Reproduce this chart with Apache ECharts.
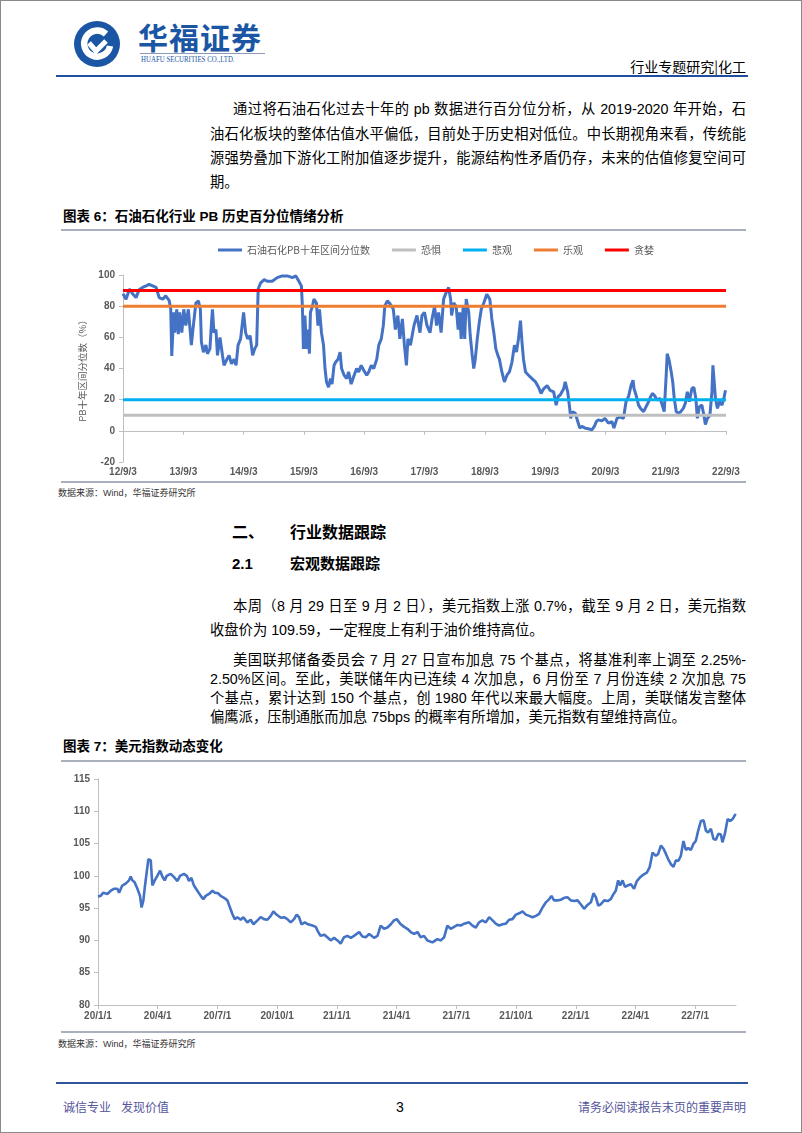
<!DOCTYPE html>
<html><head><meta charset="utf-8">
<script src="https://cdn.jsdelivr.net/npm/echarts@6/dist/echarts.min.js"></script>
<style>
html,body{margin:0;padding:0;background:#fff;}
#page{position:relative;width:802px;height:1133px;box-sizing:border-box;border:1px solid #8a8a8a;overflow:hidden;font-family:"Liberation Sans","Noto Sans CJK SC",sans-serif;color:#000;}
.t{position:absolute;white-space:nowrap;}
.j{position:absolute;white-space:nowrap;text-align:justify;text-align-last:justify;font-size:14.3px;line-height:18px;height:18px;}
.hl{position:absolute;height:2px;}
.b{font-weight:bold;}
</style></head><body>
<div id="page">
  <!-- header -->
  <svg style="position:absolute;left:72px;top:19px" width="48" height="48" viewBox="0 0 48 48">
    <circle cx="24" cy="24" r="23" fill="#1B56A5"/>
    <path d="M33 14 A13 13 0 1 0 37 26" fill="none" stroke="#fff" stroke-width="6.5"/>
    <path d="M16 23 L23 31 L33 21" fill="none" stroke="#fff" stroke-width="5"/>
  </svg>
  <div class="t b" style="left:137px;top:18px;font-size:30px;line-height:34px;color:#1B56A5;font-family:'Noto Sans CJK SC';letter-spacing:1px">华福证券</div>
  <div class="hl" style="left:139px;top:52px;width:125px;height:1px;background:#8a9ab8"></div>
  <div class="t" style="left:140px;top:54px;font-size:8px;line-height:9px;color:#1B56A5;font-family:'Liberation Serif';transform:scaleX(0.86);transform-origin:left">HUAFU SECURITIES CO.,LTD.</div>
  <div class="t" style="right:55px;top:56px;font-size:14px;line-height:18px;font-family:'Noto Sans CJK SC'">行业专题研究|化工</div>
  <div class="hl" style="left:55px;top:74px;width:692px;background:#1F4E9E"></div>

  <!-- paragraph 1 -->
  <div class="j" style="left:232px;top:99px;width:513px">通过将石油石化过去十年的 pb 数据进行百分位分析，从 2019-2020 年开始，石</div>
  <div class="j" style="left:209px;top:124px;width:536px">油石化板块的整体估值水平偏低，目前处于历史相对低位。中长期视角来看，传统能</div>
  <div class="j" style="left:209px;top:148px;width:536px">源强势叠加下游化工附加值逐步提升，能源结构性矛盾仍存，未来的估值修复空间可</div>
  <div class="t" style="left:209px;top:172px;font-size:14.3px;line-height:18px">期。</div>

  <!-- chart 6 -->
  <div class="t b" style="left:62px;top:207px;font-size:13.5px;line-height:18px">图表 6：石油石化行业 PB 历史百分位情绪分析</div>
  <div class="hl" style="left:60px;top:228px;width:685px;background:#A9AFBD"></div>
  <div id="c1" style="position:absolute;left:40px;top:236px;width:720px;height:240px"></div>
  <div class="hl" style="left:60px;top:480px;width:685px;background:#A9AFBD"></div>
  <div class="t" style="left:57px;top:486px;font-size:9px;line-height:12px;color:#333">数据来源：Wind，华福证券研究所</div>

  <!-- section -->
  <div class="t b" style="left:231px;top:522px;font-size:16px;line-height:20px">二、</div>
  <div class="t b" style="left:289px;top:522px;font-size:16px;line-height:20px">行业数据跟踪</div>
  <div class="t b" style="left:231px;top:553px;font-size:15px;line-height:19px">2.1</div>
  <div class="t b" style="left:289px;top:553px;font-size:15px;line-height:19px">宏观数据跟踪</div>

  <div class="j" style="left:232px;top:596px;width:513px">本周（8 月 29 日至 9 月 2 日），美元指数上涨 0.7%，截至 9 月 2 日，美元指数</div>
  <div class="t" style="left:209px;top:620px;font-size:14.3px;line-height:18px">收盘价为 109.59，一定程度上有利于油价维持高位。</div>

  <div class="j" style="left:232px;top:650px;width:513px">美国联邦储备委员会 7 月 27 日宣布加息 75 个基点，将基准利率上调至 2.25%-</div>
  <div class="j" style="left:209px;top:669px;width:536px">2.50%区间。至此，美联储年内已连续 4 次加息，6 月份至 7 月份连续 2 次加息 75</div>
  <div class="j" style="left:209px;top:688px;width:536px">个基点，累计达到 150 个基点，创 1980 年代以来最大幅度。上周，美联储发言整体</div>
  <div class="t" style="left:209px;top:707px;font-size:14.3px;line-height:18px">偏鹰派，压制通胀而加息 75bps 的概率有所增加，美元指数有望维持高位。</div>

  <!-- chart 7 -->
  <div class="t b" style="left:62px;top:737px;font-size:13.5px;line-height:18px">图表 7：美元指数动态变化</div>
  <div class="hl" style="left:60px;top:759px;width:685px;background:#A9AFBD"></div>
  <div id="c2" style="position:absolute;left:40px;top:765px;width:720px;height:262px"></div>
  <div class="hl" style="left:60px;top:1030px;width:685px;background:#A9AFBD"></div>
  <div class="t" style="left:57px;top:1037px;font-size:9px;line-height:12px;color:#333">数据来源：Wind，华福证券研究所</div>

  <!-- footer -->
  <div class="hl" style="left:55px;top:1081px;width:692px;background:#2F5597"></div>
  <div class="t" style="left:62px;top:1099px;font-size:12px;line-height:16px;color:#55559a">诚信专业&nbsp;&nbsp;&nbsp;发现价值</div>
  <div class="t" style="left:395px;top:1098px;font-size:14px;line-height:17px">3</div>
  <div class="t" style="right:55px;top:1099px;font-size:12px;line-height:16px;color:#55559a">请务必阅读报告末页的重要声明</div>
</div>
<script>
// ---------- Chart 6 data: months since 2012/9/3, PB ten-year percentile ----------
const pbMonths = [0,0.6,1.3,1.9,2.6,3.2,3.9,4.6,5.2,5.9,6.6,7.2,7.9,8.5,9.2,9.5,9.7,10.1,10.3,10.7,11.0,11.3,11.7,12.1,12.5,13.0,13.4,13.6,14.0,14.5,15.0,15.4,15.6,16.0,16.5,16.8,17.3,17.6,17.8,18.1,18.5,18.8,19.3,19.8,20.1,20.7,21.1,21.6,22.1,22.5,22.9,23.4,24.0,24.4,24.8,25.3,25.8,26.2,26.6,26.9,
27.4,28.1,28.7,29.7,30.7,31.7,32.7,33.7,34.4,35.0,35.5,35.7,35.9,36.2,36.5,36.8,37.1,37.3,37.7,38.0,38.5,38.8,39.1,39.5,39.9,40.2,40.5,40.9,41.3,41.6,42.0,42.3,42.8,43.2,43.5,44.0,44.5,44.9,45.4,46.0,46.5,46.9,47.4,47.9,48.5,48.9,49.4,49.9,50.5,50.9,51.4,51.8,52.1,52.6,53.2,53.8,54.2,54.7,55.1,55.6,56.0,56.4,56.7,
57.2,57.9,58.5,59.1,59.5,60.0,60.5,61.1,61.5,62.0,62.4,62.8,63.3,63.8,64.3,64.8,65.2,65.4,65.8,66.3,66.7,67.0,67.3,67.7,68.0,68.3,68.8,69.1,69.5,69.8,70.1,70.5,70.9,71.3,71.8,72.4,73.0,73.4,73.8,74.2,74.6,74.9,75.4,75.9,76.4,76.9,77.4,77.9,78.3,78.7,79.1,79.4,79.7,80.1,80.7,81.4,82.1,82.7,83.2,83.7,84.4,85.0,85.7,86.2,86.6,
87.0,87.7,88.0,88.5,88.9,89.1,89.5,90.0,90.5,90.9,91.3,92.0,92.6,93.3,93.8,94.2,94.6,95.3,95.9,96.6,97.3,97.7,98.3,98.9,99.6,100.1,100.6,101.1,101.5,101.7,102.1,102.6,103.0,103.6,104.1,104.6,105.0,105.4,105.9,106.3,106.9,107.4,107.7,108.1,108.3,108.7,109.1,109.4,109.7,110.1,110.5,111.0,111.5,111.9,112.3,112.7,113.2,113.6,114.0,114.3,114.7,115.2,115.6,115.9,116.3,116.8,117.2,117.4,117.6,117.9,118.3,118.7,119.2,119.5,119.9];
const pbValues = [88,84.5,91,88,85.5,90.5,92,93,94,93,92,85.5,84.5,86.6,83.5,78,48,76,63,78,62,76,63,78,67.5,78,63,55,67.5,82,83.4,78,57,50.5,55,49.5,52.6,68.6,78,63,65,48.4,60,48.4,42,46,48.4,43,46,42,55,59,76,63,59,61,48.4,52.6,55,91,
95,97,96,96,98.3,99.4,99.4,98.3,99.4,96,93,80,52.6,74,52.6,65,49.5,76,80,84.5,82,67.5,78,63,55,40,31.4,28,33.5,30,42,44,46,50.5,40,35.7,33.5,37.8,30,35.7,40,37.8,42,38.9,35.7,37.8,42,40,46,55,59,67.5,80,83.4,81.3,78,65,74,59,71.8,55,42,59,
55,67.5,74,63,74,76,67.5,63,71.8,80,67.5,76,63,84.5,88.7,92,84.5,74,82,80,65,76,59,80,59,84.5,76,61,48.4,40,46,59,69.6,78,82,87.7,84.5,71.8,63,52.6,48.4,46,37.8,31.4,35.7,37.8,44,55,50.5,59,70.7,57,46,37.8,35.7,33.5,31.4,28,24,27,29,26,25,16.5,22,
23,27,31.4,25,14.4,8,12.3,11.3,6,1.7,2.8,1.7,1.3,0.6,2.8,6,7,6.4,8,4.9,6,1.7,8,9,8,18.7,22,29,32.5,27,23,16.5,14.4,12.3,15.5,18.7,22,24,22,19.7,20.8,15.5,12.3,35.7,49.5,45,37.8,31.4,20.8,12.3,11.3,12.3,14.4,17.6,25,18.7,27,28,20.8,8,15.5,16.5,10,4,8,10,25,42,33.5,20.8,14.4,18.7,16.5,19.7,26];
const pbXLabels = ['12/9/3','13/9/3','14/9/3','15/9/3','16/9/3','17/9/3','18/9/3','19/9/3','20/9/3','21/9/3','22/9/3'];
const pbSeriesName = '石油石化PB十年区间分位数';
const levelNames = ['恐惧','悲观','乐观','贪婪'];
const levelValues = [10,20,80,90];
const levelColors = ['#BFBFBF','#00B0F0','#ED7D31','#FF0000'];

// ---------- Chart 7 data: months since 2020/1/1, US dollar index ----------
const usdMonths = [0,0.13,0.27,0.47,0.64,0.80,0.97,1.06,1.22,1.39,1.56,1.64,1.73,1.84,1.98,2.11,2.19,2.28,2.35,2.45,2.53,2.65,2.73,2.85,2.98,3.12,3.23,3.35,3.45,3.65,3.82,3.99,4.12,4.32,4.46,4.57,4.69,4.82,4.99,5.16,5.29,5.41,5.58,5.75,5.86,6.03,6.16,6.33,6.50,6.63,6.75,6.87,7.00,7.17,7.30,7.50,7.67,7.81,8.01,8.17,8.34,8.51,8.68,8.81,8.93,9.10,9.21,9.35,9.51,9.68,9.85,9.98,10.10,10.22,10.39,10.55,10.77,10.94,11.06,11.19,11.36,11.52,11.69,11.86,12.03,12.19,12.36,12.53,12.70,12.86,13.12,13.28,13.45,13.62,13.87,14.04,14.20,14.37,14.54,14.71,14.87,15.01,15.18,15.38,15.54,15.71,15.88,16.05,
16.21,16.38,16.55,16.80,17.05,17.22,17.39,17.55,17.72,17.89,18.06,18.22,18.39,18.64,18.81,18.98,19.14,19.31,19.48,19.65,19.82,19.98,20.15,20.32,20.49,20.65,20.82,20.99,21.16,21.33,21.49,21.66,21.83,22.00,22.16,22.33,22.50,22.67,22.78,22.91,23.08,23.25,23.42,23.58,23.75,23.92,24.09,24.25,24.42,24.59,24.76,24.89,25.01,25.13,25.26,25.43,25.60,25.76,25.90,26.01,26.13,26.23,26.35,26.47,26.60,26.77,26.93,27.07,27.24,27.40,27.57,27.71,27.86,28.02,28.14,28.28,28.41,28.53,28.64,28.78,28.91,29.03,29.15,29.28,29.41,29.53,29.65,29.78,29.92,30.03,30.15,30.29,30.42,30.54,30.65,30.79,30.92,31.04,31.16,31.29,31.37,31.49,31.63,31.76,31.88,31.96,32.03];
const usdValues = [96.8,96.9,97.4,97.2,97.7,98.0,98.0,97.4,98.5,98.8,99.3,99.9,99.3,99.0,98.0,96.9,95.1,96.2,98.2,98.3,102.6,102.4,98.5,99.3,100.0,100.8,99.9,99.3,100.0,100.3,99.8,99.2,100.0,100.3,100.0,99.2,99.7,98.5,97.7,96.9,96.4,96.9,97.2,97.7,97.4,97.3,96.9,96.6,96.2,95.1,94.1,93.3,93.6,93.2,93.6,92.8,93.2,92.5,93.1,93.6,93.3,93.2,93.8,94.5,94.1,93.7,93.5,93.6,93.3,92.8,93.3,94.0,93.6,92.5,92.8,92.5,92.3,92.1,91.3,90.7,90.9,90.5,90.0,90.4,90.0,89.5,90.5,90.7,90.4,90.7,91.3,90.6,90.5,91.0,90.4,90.7,92.3,91.8,92.0,92.5,93.1,93.3,92.6,92.1,91.8,91.3,91.0,91.3,
90.5,90.7,90.0,89.7,90.2,90.0,90.5,92.3,91.8,92.1,92.4,92.3,92.6,92.8,92.3,92.0,92.8,93.1,92.8,93.6,93.1,92.6,92.3,92.5,92.6,93.2,93.3,94.0,94.2,94.5,94.0,93.8,93.6,93.8,94.1,95.1,95.9,96.4,96.9,96.2,96.2,96.3,96.6,96.7,96.2,96.1,96.2,95.6,94.9,95.5,95.9,97.3,96.7,95.4,95.6,96.2,96.1,96.4,97.2,97.7,99.3,98.5,99.3,98.3,98.5,98.7,98.0,99.2,99.8,100.2,100.5,101.3,103.6,103.1,103.4,104.7,104.2,103.4,102.6,101.8,101.4,102.4,102.3,103.1,105.4,104.0,104.3,104.0,105.0,105.4,107.0,108.5,108.6,107.0,106.7,107.3,105.7,105.6,106.5,106.4,105.2,106.5,108.8,108.5,108.8,109.0,109.6];
const usdXLabels = ['20/1/1','20/4/1','20/7/1','20/10/1','21/1/1','21/4/1','21/7/1','21/10/1','22/1/1','22/4/1','22/7/1'];

const axisGray = '#BFBFBF';
const labelStyle = {color:'#595959',fontSize:10,fontWeight:'bold',fontFamily:'Liberation Sans'};

// ---------- Chart 6 ----------
const c1 = echarts.init(document.getElementById('c1'), null, {renderer:'canvas'});
const levelSeries = levelNames.map((n,i)=>({
  name:n, type:'line', data:[[0,levelValues[i]],[120,levelValues[i]]],
  showSymbol:false, symbol:'none', lineStyle:{width:3,color:levelColors[i]}, itemStyle:{color:levelColors[i]}, silent:true, animation:false
}));
c1.setOption({
  animation:false,
  legend:{top:8,left:177,icon:'rect',itemWidth:24,itemHeight:3,itemGap:22,padding:0,
    textStyle:{fontSize:10,color:'#595959',fontFamily:'Noto Sans CJK SC'},
    data:[pbSeriesName].concat(levelNames)},
  grid:{left:82,top:38,width:603,height:189,containLabel:false},
  xAxis:{type:'value',min:0,max:120,interval:12,
    axisLine:{onZero:true,lineStyle:{color:axisGray,width:1}},
    axisTick:{show:true,length:4,lineStyle:{color:axisGray}},
    axisLabel:Object.assign({margin:5,formatter:v=>pbXLabels[Math.round(v/12)]||''},labelStyle),
    splitLine:{show:false}},
  yAxis:{type:'value',min:-20,max:100,interval:20,
    axisLine:{show:true,onZero:false,lineStyle:{color:axisGray}},
    axisTick:{show:true,length:4,lineStyle:{color:axisGray}},
    axisLabel:Object.assign({margin:8,showMinLabel:true,showMaxLabel:true,hideOverlap:false},labelStyle),
    splitLine:{show:false},
    name:'PB十年区间分位数（%）',nameLocation:'middle',nameGap:29,nameRotate:90,
    nameTextStyle:{fontSize:9.5,color:'#595959',fontFamily:'Noto Sans CJK SC'}},
  series:[{name:pbSeriesName,type:'line',data:pbMonths.map((m,i)=>[m,pbValues[i]]),
    showSymbol:false,symbol:'none',lineStyle:{width:3,color:'#4472C4'},itemStyle:{color:'#4472C4'}}].concat(levelSeries)
});

// ---------- Chart 7 ----------
const c2 = echarts.init(document.getElementById('c2'), null, {renderer:'canvas'});
c2.setOption({
  animation:false,
  grid:{left:57,top:13,width:638,height:226,containLabel:false},
  xAxis:{type:'value',min:0,max:32.05,interval:3,
    axisLine:{lineStyle:{color:axisGray}},
    axisTick:{show:true,length:4,lineStyle:{color:axisGray}},
    axisLabel:Object.assign({margin:6,showMaxLabel:false,formatter:v=>{const k=v/3;return Math.abs(k-Math.round(k))<0.01?(usdXLabels[Math.round(k)]||''):'';}},labelStyle),
    splitLine:{show:false}},
  yAxis:{type:'value',min:80,max:115,interval:5,
    axisLine:{show:true,lineStyle:{color:axisGray}},
    axisTick:{show:true,length:4,lineStyle:{color:axisGray}},
    axisLabel:Object.assign({margin:8},labelStyle),
    splitLine:{show:false}},
  series:[{type:'line',data:usdMonths.map((m,i)=>[m,usdValues[i]]),showSymbol:false,symbol:'none',
    lineStyle:{width:2.6,color:'#4472C4'}}]
});
</script>
</body></html>
